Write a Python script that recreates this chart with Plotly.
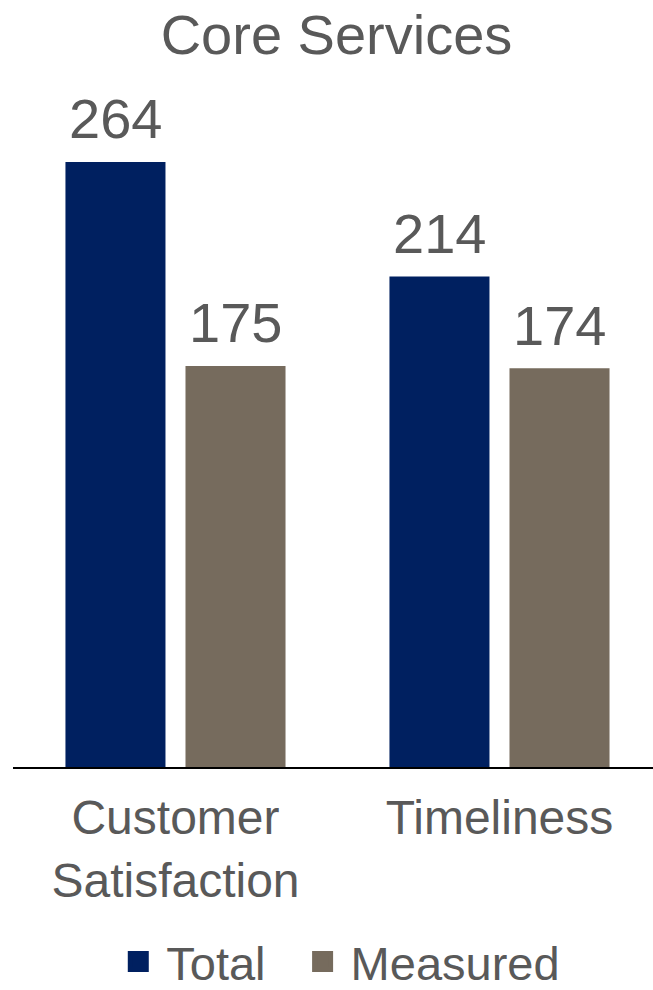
import plotly.graph_objects as go

categories = ["Customer<br>Satisfaction", "Timeliness"]
total_values = [264, 214]
measured_values = [175, 174]
series_names = ["Total", "Measured"]

NAVY = "#002060"
TAUPE = "#766B5D"
TEXT = "#595959"
FONT = "Liberation Sans, Arial, sans-serif"

W, H = 653, 990

fig = go.Figure()
fig.add_trace(go.Bar(
    x=categories, y=total_values, name=series_names[0],
    marker=dict(color=NAVY, line=dict(width=0)), showlegend=False,
))
fig.add_trace(go.Bar(
    x=categories, y=measured_values, name=series_names[1],
    marker=dict(color=TAUPE, line=dict(width=0)), showlegend=False,
))
# legend-only entries with larger square swatches, one legend each for spacing
for name, col, lg in zip(series_names, [NAVY, TAUPE], ["legend", "legend2"]):
    fig.add_trace(go.Scatter(
        x=[None], y=[None], mode="markers", name=name, legend=lg,
        marker=dict(symbol="square", size=16, color=col, line=dict(color=col, width=5)),
    ))

annotations = []
for vals, shift in [(total_values, -60), (measured_values, 60)]:
    for cat, v in zip(categories, vals):
        annotations.append(dict(
            x=cat, y=v, xref="x", yref="y", text=str(v), showarrow=False,
            xshift=shift, yshift=43, yanchor="middle", xanchor="center",
            font=dict(size=56, color=TEXT, family=FONT),
        ))

legend_common = dict(orientation="h", xanchor="left", y=-0.288, yanchor="middle",
                     font=dict(size=47, color=TEXT, family=FONT), itemclick=False,
                     itemwidth=46, bgcolor="rgba(0,0,0,0)")

fig.update_layout(
    width=W, height=H,
    margin=dict(l=13, r=0, t=90, b=223, autoexpand=False),
    paper_bgcolor="white", plot_bgcolor="white",
    barmode="group", bargap=0.259, bargroupgap=0.1667,
    hovermode=False,
    font=dict(family=FONT, color=TEXT),
    title=dict(text="Core Services", x=336.5/W, xref="container", xanchor="center",
               y=1-34/H, yref="container", yanchor="middle",
               font=dict(size=56, color=TEXT, family=FONT)),
    showlegend=True,
    legend=dict(x=0.152, **legend_common),
    legend2=dict(x=0.440, **legend_common),
    annotations=annotations,
    xaxis=dict(type="category", range=[-0.5015, 1.4738], showline=True, linecolor="black",
               linewidth=1.5, ticks="", tickfont=dict(size=48, color=TEXT, family=FONT),
               ticklabelstandoff=8, showgrid=False, fixedrange=True),
    yaxis=dict(range=[0, 295.4], visible=False, showgrid=False, fixedrange=True),
)

fig.write_html("out.html", config={"displayModeBar": False, "staticPlot": True},
               post_script="document.body.style.margin='0';document.body.style.overflow='hidden';")
